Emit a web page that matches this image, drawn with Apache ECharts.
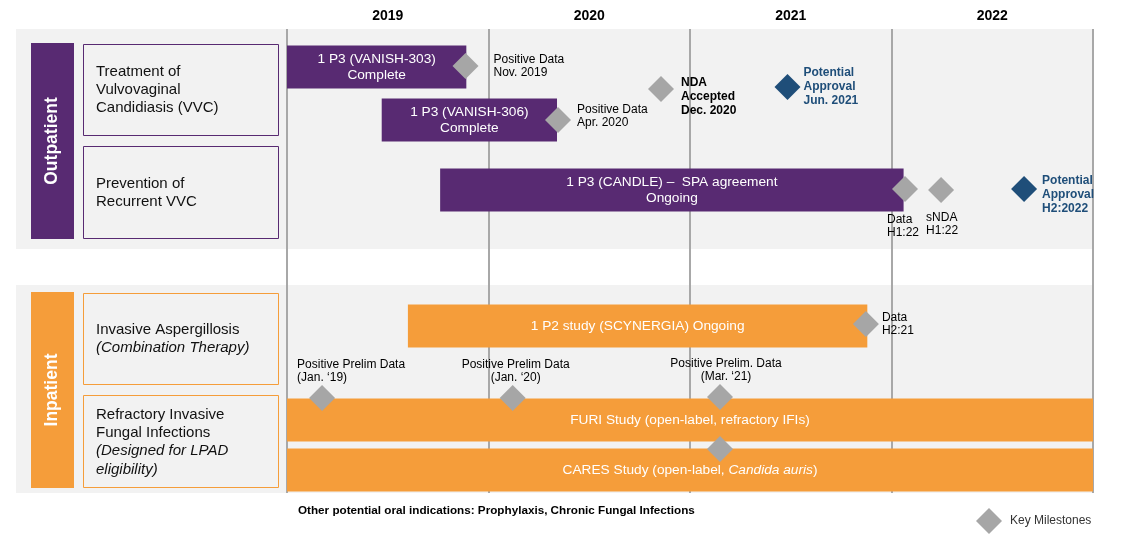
<!DOCTYPE html>
<html><head><meta charset="utf-8">
<script src="https://cdn.jsdelivr.net/npm/echarts@6/dist/echarts.min.js"></script>
<style>html,body{margin:0;padding:0;background:#fff}#c{width:1139px;height:539px}</style>
</head><body><div id="c"></div>
<script>
// ---------- DATA ----------
const years = ['2019', '2020', '2021', '2022'];

const studyText = [
  '1 P3 (VANISH-303)\nComplete',
  '1 P3 (VANISH-306)\nComplete',
  '1 P3 (CANDLE) \u2013  SPA agreement\nOngoing',
  '1 P2 study (SCYNERGIA) Ongoing',
  'FURI Study (open-label, refractory IFIs)',
  'CARES Study (open-label, |Candida auris|)'
];
const studyStart = [2019.0, 2019.47, 2019.76, 2019.6, 2019.0, 2019.0];
const studyEnd   = [2019.89, 2020.34, 2022.06, 2021.88, 2023.0, 2023.0];
const studyTrack = [3.8, 9.1, 16.1, 29.7, 39.1, 44.1];
const studyGroup = ['out', 'out', 'out', 'in', 'in', 'in'];

const milestoneText = [
  'Positive Data\nNov. 2019',
  'Positive Data\nApr. 2020',
  'NDA\nAccepted\nDec. 2020',
  'Potential\nApproval\nJun. 2021',
  'Data\nH1:22',
  'sNDA\nH1:22',
  'Potential\nApproval\nH2:2022',
  'Data\nH2:21',
  'Positive Prelim Data\n(Jan. \u201819)',
  'Positive Prelim Data\n(Jan. \u201820)',
  'Positive Prelim. Data\n(Mar. \u201821)',
  ''
];
const milestoneDate  = [2019.886, 2020.345, 2020.856, 2021.484, 2022.067, 2022.246, 2022.658, 2021.873, 2019.174, 2020.12, 2021.149, 2021.149];
const milestoneTrack = [3.7, 9.1, 6.0, 5.8, 16.0, 16.1, 16.0, 29.5, 36.9, 36.9, 36.8, 42.0];
const milestoneType  = ['data', 'data', 'filing', 'approval', 'data', 'sfiling', 'approval', 'data', 'data', 'data', 'data', 'data'];

// ---------- STYLE / LAYOUT ----------
const FONT = '"Liberation Sans", Arial, sans-serif';
const PURPLE = '#582a72', ORANGE = '#f59d3a', GRAY = '#a6a6a6', NAVY = '#1f4e79', BAND = '#f2f2f2';
// label offsets relative to diamond centre: [dx, dy, align]
const labelLayout = [
  [28, 0, 'left'], [19, -4, 'left'], [20, 8, 'left'], [16, 0, 'left'],
  [-18, 37, 'left'], [-15, 34, 'left'], [18, 6, 'left'], [16, 0, 'left'],
  [-25, -27, 'left'], [3, -27, 'center'], [6, -27, 'center'], [0, 0, 'left']
];
const typeStyle = {
  data: { color: '#000', bold: false, sym: GRAY },
  sfiling: { color: '#000', bold: false, sym: GRAY },
  filing: { color: '#000', bold: true, sym: GRAY },
  approval: { color: NAVY, bold: true, sym: NAVY }
};

const barData = studyText.map((t, i) => [studyStart[i], studyEnd[i], studyTrack[i], i]);
const msData = milestoneText.map((t, i) => {
  const st = typeStyle[milestoneType[i]];
  const L = labelLayout[i];
  return {
    value: [milestoneDate[i], milestoneTrack[i]],
    itemStyle: { color: st.sym, opacity: 1 },
    label: {
      show: t !== '',
      formatter: t,
      position: [13 + L[0], 13 + L[1]],
      align: L[2],
      verticalAlign: 'middle',
      color: st.color,
      opacity: 1,
      fontWeight: st.bold ? 'bold' : 'normal',
      fontSize: 12,
      lineHeight: st.bold ? 14 : 13.5,
      fontFamily: FONT
    }
  };
});

function barRich(t) {
  const lines = t.split('\n').map(line => {
    const parts = line.split('|');
    return parts.map((p, k) => p === '' ? '' : (k % 2 ? '{i|' + p + '}' : '{n|' + p + '}')).join('');
  });
  return lines.join('\n');
}

const chart = echarts.init(document.getElementById('c'), null, { renderer: 'canvas' });
const option = {
  backgroundColor: '#fff',
  animation: false,
  grid: { left: 287, right: 46, top: 29, bottom: 46, containLabel: false },
  xAxis: [
    {
      type: 'value', min: 2019, max: 2023, interval: 1,
      axisLine: { show: false }, axisTick: { show: false }, axisLabel: { show: false },
      splitLine: { show: true, lineStyle: { color: '#a8a8a8', width: 2 } }
    },
    {
      type: 'category', data: years, position: 'top', boundaryGap: true,
      axisLine: { show: false }, axisTick: { show: false }, splitLine: { show: false },
      axisLabel: { color: '#000', fontWeight: 'bold', fontSize: 14, fontFamily: FONT, margin: 6 }
    }
  ],
  yAxis: { type: 'value', inverse: true, min: 0, max: 46.4, show: false },
  series: [
    {
      type: 'custom',
      xAxisIndex: 0,
      encode: { x: [0, 1], y: 2 },
      data: barData,
      renderItem: function (params, api) {
        const i = api.value(3);
        const p0 = api.coord([api.value(0), api.value(2)]);
        const p1 = api.coord([api.value(1), api.value(2)]);
        const h = 43;
        const col = studyGroup[i] === 'out' ? PURPLE : ORANGE;
        return {
          type: 'rect',
          shape: { x: p0[0], y: p0[1] - h / 2, width: p1[0] - p0[0], height: h },
          style: { fill: col },
          textContent: {
            type: 'text',
            style: {
              text: barRich(studyText[i]),
              align: 'center', verticalAlign: 'middle',
              rich: {
                n: { fill: '#fff', fontSize: 13.7, fontFamily: FONT, lineHeight: 15.5 },
                i: { fill: '#fff', fontSize: 13.7, fontFamily: FONT, fontStyle: 'italic', lineHeight: 15.5 }
              }
            }
          },
          textConfig: { position: 'inside' }
        };
      }
    },
    {
      type: 'scatter',
      xAxisIndex: 0,
      symbol: 'diamond',
      symbolSize: [26, 26],
      itemStyle: { opacity: 1 },
      data: msData,
      z: 5
    }
  ],
  graphic: [
    { type: 'rect', z: -10, shape: { x: 16, y: 29, width: 1077, height: 220 }, style: { fill: BAND } },
    { type: 'rect', z: -10, shape: { x: 16, y: 285, width: 1077, height: 208 }, style: { fill: BAND } },
    { type: 'rect', shape: { x: 31, y: 43, width: 43, height: 196 }, style: { fill: PURPLE } },
    { type: 'text', x: 52.5, y: 141, rotation: Math.PI / 2,
      style: { text: 'Outpatient', fill: '#fff', font: 'bold 17.5px ' + FONT, align: 'center', verticalAlign: 'middle' } },
    { type: 'rect', shape: { x: 83.5, y: 44.5, width: 195, height: 91 }, style: { fill: BAND, stroke: PURPLE, lineWidth: 1 } },
    { type: 'rect', shape: { x: 83.5, y: 146.5, width: 195, height: 92 }, style: { fill: BAND, stroke: PURPLE, lineWidth: 1 } },
    { type: 'text', x: 96, y: 90,
      style: { text: 'Treatment of\nVulvovaginal\nCandidiasis (VVC)', fill: '#111', font: '15px ' + FONT, lineHeight: 18, verticalAlign: 'middle' } },
    { type: 'text', x: 96, y: 193,
      style: { text: 'Prevention of\nRecurrent VVC', fill: '#111', font: '15px ' + FONT, lineHeight: 18, verticalAlign: 'middle' } },

    { type: 'rect', shape: { x: 31, y: 292, width: 43, height: 196 }, style: { fill: ORANGE } },
    { type: 'text', x: 52.5, y: 390, rotation: Math.PI / 2,
      style: { text: 'Inpatient', fill: '#fff', font: 'bold 17.5px ' + FONT, align: 'center', verticalAlign: 'middle' } },
    { type: 'rect', shape: { x: 83.5, y: 293.5, width: 195, height: 91 }, style: { fill: BAND, stroke: ORANGE, lineWidth: 1 } },
    { type: 'rect', shape: { x: 83.5, y: 395.5, width: 195, height: 92 }, style: { fill: BAND, stroke: ORANGE, lineWidth: 1 } },
    { type: 'text', x: 96, y: 339,
      style: { text: '{n|Invasive Aspergillosis}\n{i|(Combination Therapy)}', verticalAlign: 'middle',
        rich: { n: { fill: '#111', fontSize: 15, fontFamily: FONT, lineHeight: 18 },
                i: { fill: '#111', fontSize: 15, fontFamily: FONT, fontStyle: 'italic', lineHeight: 18 } } } },
    { type: 'text', x: 96, y: 442,
      style: { text: '{n|Refractory Invasive}\n{n|Fungal Infections}\n{i|(Designed for LPAD}\n{i|eligibility)}', verticalAlign: 'middle',
        rich: { n: { fill: '#111', fontSize: 15, fontFamily: FONT, lineHeight: 18.3 },
                i: { fill: '#111', fontSize: 15, fontFamily: FONT, fontStyle: 'italic', lineHeight: 18.3 } } } },

    { type: 'text', x: 298, y: 511,
      style: { text: 'Other potential oral indications: Prophylaxis, Chronic Fungal Infections', fill: '#000', font: 'bold 11.7px ' + FONT, verticalAlign: 'middle' } },
    { type: 'polygon', shape: { points: [[989, 508], [1002, 521], [989, 534], [976, 521]] }, style: { fill: GRAY } },
    { type: 'text', x: 1010, y: 521,
      style: { text: 'Key Milestones', fill: '#333', font: '12px ' + FONT, verticalAlign: 'middle' } }
  ]
};
chart.setOption(option);
</script>
</body></html>
